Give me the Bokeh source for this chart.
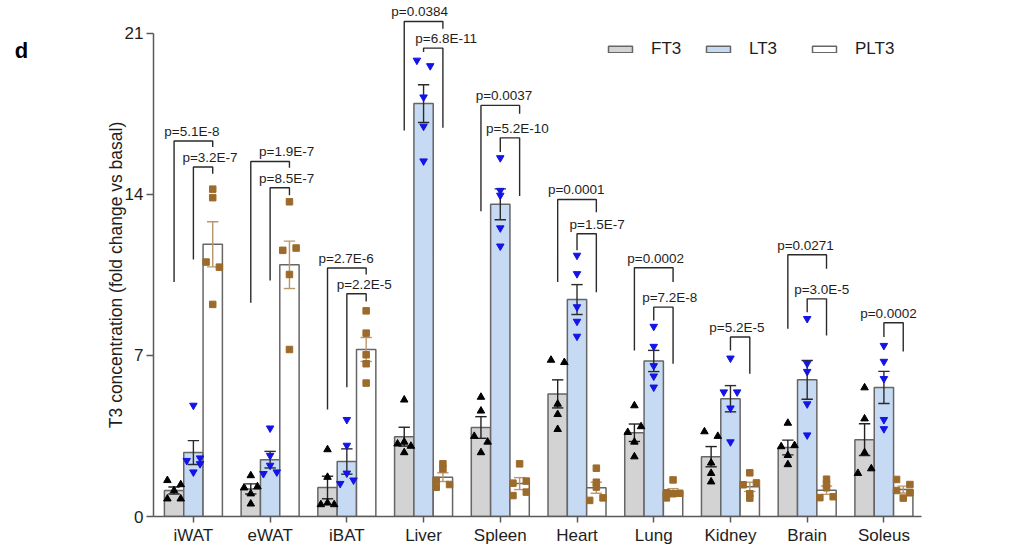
import numpy as np
from bokeh.plotting import figure
from bokeh.models import (ColumnDataSource, Range1d, FixedTicker, Legend, LegendItem, Label)
from bokeh.embed import file_html
from bokeh.resources import INLINE
from bokeh.core.properties import value

# ---------------- data ----------------
categories = ["iWAT", "eWAT", "iBAT", "Liver", "Spleen", "Heart", "Lung", "Kidney", "Brain", "Soleus"]
series = ["FT3", "LT3", "PLT3"]
y_ticks = [0, 7, 14, 21]
y_label = "T3 concentration (fold change vs basal)"
panel_letter = "d"

ft3_mean = [1.13, 1.20, 1.26, 3.47, 3.87, 5.33, 3.64, 2.60, 3.00, 3.34]
ft3_sem = [0.15, 0.22, 0.49, 0.41, 0.47, 0.61, 0.38, 0.44, 0.32, 0.69]
lt3_mean = [2.78, 2.47, 2.39, 17.95, 13.57, 9.43, 6.76, 5.12, 5.94, 5.61]
lt3_sem = [0.52, 0.36, 0.55, 0.82, 0.67, 0.65, 0.46, 0.57, 0.84, 0.70]
plt3_mean = [11.83, 10.94, 7.26, 1.71, 1.43, 1.25, 1.10, 1.29, 1.14, 1.17]
plt3_sem = [0.98, 1.03, 0.52, 0.19, 0.26, 0.24, 0.11, 0.20, 0.18, 0.15]

ft3_points = [
    [1.57, 1.39, 1.13, 0.77, 0.77],
    [1.78, 1.25, 1.30, 0.99, 0.55],
    [2.91, 1.71, 0.52, 0.59, 0.52],
    [5.07, 3.24, 3.16, 3.06, 2.78],
    [5.19, 4.59, 3.49, 3.24, 2.78],
    [6.80, 6.70, 4.89, 4.44, 3.79],
    [4.82, 3.91, 3.66, 3.24, 2.60],
    [3.69, 3.49, 2.33, 1.88, 1.51],
    [4.06, 3.09, 3.04, 2.66, 2.26],
    [5.60, 4.25, 2.78, 1.88, 2.08],
]
lt3_points = [
    [4.83, 2.43, 2.54, 2.29, 1.93],
    [3.84, 2.65, 2.22, 1.86, 1.93],
    [4.21, 3.09, 1.88, 1.43, 1.58],
    [19.83, 19.59, 18.23, 16.96, 15.45],
    [15.59, 14.17, 13.96, 12.54, 11.75],
    [11.35, 10.55, 9.11, 8.48, 7.83],
    [8.26, 7.39, 6.55, 6.10, 5.62],
    [6.88, 5.41, 5.41, 4.71, 3.24],
    [8.60, 6.65, 6.30, 4.89, 3.54],
    [7.43, 6.74, 5.99, 4.21, 3.81],
]
plt3_points = [
    [14.23, 13.86, 11.06, 10.84, 9.22],
    [13.68, 11.57, 11.67, 10.52, 7.26],
    [8.94, 7.97, 7.03, 6.64, 5.80],
    [2.29, 2.07, 1.57, 1.39, 1.27],
    [2.29, 1.45, 1.54, 0.91, 1.06],
    [2.10, 1.49, 1.28, 0.70, 0.81],
    [1.59, 1.03, 0.99, 1.01, 0.81],
    [1.90, 1.38, 1.46, 0.99, 0.80],
    [1.62, 1.40, 1.25, 0.82, 0.86],
    [1.61, 1.39, 1.13, 1.03, 0.80],
]

# significance brackets (group index, compared series vs PLT3)
bracket_group = [0, 0, 1, 1, 2, 2, 3, 3, 4, 4, 5, 5, 6, 6, 7, 8, 8, 9]
bracket_from = ["FT3", "LT3", "FT3", "LT3", "FT3", "LT3", "FT3", "LT3", "FT3", "LT3",
                "FT3", "LT3", "FT3", "LT3", "LT3", "FT3", "LT3", "LT3"]
bracket_top = [16.32, 15.19, 15.43, 14.29, 10.80, 9.68, 21.52, 20.36, 17.87, 16.46,
               13.78, 12.29, 10.81, 9.10, 7.80, 11.38, 9.46, 8.42]
bracket_left_end = [10.19, 11.17, 9.29, 10.26, 4.65, 5.62, 16.78, 20.19, 13.27, 15.84,
                    10.19, 11.57, 7.22, 8.52, 7.22, 8.16, 8.88, 7.80]
bracket_right_end = [16.06, 14.90, 15.16, 13.96, 10.52, 9.35, 21.20, 16.90, 17.51, 13.93,
                     13.23, 9.75, 10.19, 6.64, 6.20, 10.77, 7.87, 7.17]
bracket_text = ["p=5.1E-8", "p=3.2E-7", "p=1.9E-7", "p=8.5E-7", "p=2.7E-6", "p=2.2E-5",
                "p=0.0384", "p=6.8E-11", "p=0.0037", "p=5.2E-10", "p=0.0001", "p=1.5E-7",
                "p=0.0002", "p=7.2E-8", "p=5.2E-5", "p=0.0271", "p=3.0E-5", "p=0.0002"]

# ---------------- layout / style ----------------
label_dx = [-0.02, 0.217, 0.215, 0.215, -0.01, 0.227, -0.052, 0.294, 0.048, 0.223,
            -0.01, 0.262, 0.025, 0.209, 0.084, -0.022, 0.19, 0.06]
label_dy = 0.42
jitter = {
    "FT3": [[-1, 1, 0, -1, 1], [0, -1, 1, 0, 0], [0, 0, -1, 0, 1], [0, 0, -1, 1, 0], [0, 0, -1, 1, 0],
            [-1, 1, 0, 0, 0], [0, 1, -1, 0, 0], [-1, 1, 0, 0, 0], [0, 1, -1, 0, 0], [0, 0, 0, -1, 1]],
    "LT3": [[0, -1, 1, 1, 0], [0, 0, 0, -1, 1], [0, 0, 0, -1, 1], [-1, 1, 0, 0, 0], [0, 0, 0, 0, 0],
            [0, 0, 0, 0, 0], [0, 0, 0, 0, 0], [0, -1, 1, 0, 0], [0, 0, 0, 0, 0], [0, 0, 0, 0, 0]],
    "PLT3": [[0, 0, -1, 1, 0], [0, -1, 1, 0, 0], [0, 0, 0, 0, 0], [0, 0, -1, 1, -1], [0, -1, 1, -1, 1],
             [0, 0, 0, -1, 1], [0, -1, 0, 1, -1], [0, -1, 1, 0, 0], [0, 0, 0, -1, 1], [-1, 1, -1, 1, 0]],
}
offset = {"FT3": -0.252, "LT3": 0.0, "PLT3": 0.252}
bar_width = 0.252
jit_step = 0.087
cap_half = 0.074
fill = {"FT3": "#d3d3d3", "LT3": "#c6daf3", "PLT3": "#ffffff"}
err_color = {"FT3": "#222222", "LT3": "#2b2b2b", "PLT3": "#b8976c"}
marker = {"FT3": "triangle", "LT3": "inverted_triangle", "PLT3": "square"}
marker_color = {"FT3": "#000000", "LT3": "#1414e6", "PLT3": "#9c6b2c"}
marker_size = {"FT3": 7.5, "LT3": 7.5, "PLT3": 6.5}
FONT = "Liberation Sans"
axis_color = "#5a5a5a"
bar_line = "#666666"

means = {"FT3": ft3_mean, "LT3": lt3_mean, "PLT3": plt3_mean}
sems = {"FT3": ft3_sem, "LT3": lt3_sem, "PLT3": plt3_sem}
points = {"FT3": ft3_points, "LT3": lt3_points, "PLT3": plt3_points}

p = figure(frame_width=768, frame_height=516,
           x_range=Range1d(-0.52, 9.49), y_range=Range1d(0, 22.43),
           output_backend="svg", toolbar_location=None,
           min_border_left=153, min_border_right=103, min_border_top=0, min_border_bottom=29)
p.outline_line_color = None
p.xgrid.visible = False
p.ygrid.visible = False
p.background_fill_color = "white"

idx = np.arange(len(categories))
bar_renderers = {}
for s in series:
    xs = idx + offset[s]
    src = ColumnDataSource(dict(x=xs, top=means[s]))
    bar_renderers[s] = p.vbar(x="x", top="top", bottom=0, width=bar_width, source=src,
                              fill_color=fill[s], line_color=bar_line, line_width=1.5)

for s in series:
    xs = idx + offset[s]
    m = np.array(means[s]); e = np.array(sems[s])
    seg = ColumnDataSource(dict(
        x0=np.concatenate([xs, xs - cap_half, xs - cap_half]),
        x1=np.concatenate([xs, xs + cap_half, xs + cap_half]),
        y0=np.concatenate([m - e, m + e, m - e]),
        y1=np.concatenate([m + e, m + e, m - e])))
    p.segment(x0="x0", y0="y0", x1="x1", y1="y1", source=seg,
              line_color=err_color[s], line_width=1.4)

for s in series:
    px, py = [], []
    for i in range(len(categories)):
        for v, j in zip(points[s][i], jitter[s][i]):
            px.append(i + offset[s] + j * jit_step)
            py.append(v)
    p.scatter(x=px, y=py, marker=marker[s], size=marker_size[s],
              fill_color=marker_color[s], line_color=marker_color[s])

# brackets
bx, by, tx, ty = [], [], [], []
for k in range(len(bracket_group)):
    g = bracket_group[k]
    xl = g + offset[bracket_from[k]]
    xr = g + offset["PLT3"]
    bx.append([xl, xl, xr, xr])
    by.append([bracket_left_end[k], bracket_top[k], bracket_top[k], bracket_right_end[k]])
    tx.append(g + label_dx[k])
    ty.append(bracket_top[k] + label_dy)
p.multi_line(xs=bx, ys=by, line_color="#2a2a2a", line_width=1.4)
p.text(x=tx, y=ty, text=bracket_text, text_font=value(FONT), text_font_size="13.5px",
       text_align="center", text_baseline="middle", text_color="#1e1e1e")

# axes
p.xaxis.ticker = FixedTicker(ticks=list(idx))
p.xaxis.major_label_overrides = {int(i): c for i, c in zip(idx, categories)}
p.yaxis.ticker = FixedTicker(ticks=y_ticks)
p.yaxis.bounds = (0, 21)
for ax in (p.xaxis[0], p.yaxis[0]):
    ax.axis_line_color = axis_color
    ax.axis_line_width = 1.5
    ax.major_tick_line_color = axis_color
    ax.major_tick_line_width = 1.5
    ax.major_tick_in = 0
    ax.minor_tick_line_color = None
    ax.major_label_text_font = FONT
    ax.major_label_text_font_size = "17px"
    ax.major_label_text_color = "#1e1e1e"
p.xaxis.major_tick_out = 6
p.xaxis.major_label_standoff = 3
p.yaxis.major_tick_out = 7
p.yaxis.major_label_standoff = 3

# texts outside the frame go to the left side panel (not clipped there)
p.add_layout(Label(x=-1.015, y=10.5, text=y_label, angle=np.pi / 2, text_font=FONT,
                   text_font_size="17.5px", text_align="center", text_baseline="alphabetic",
                   text_color="#1e1e1e"), "left")
p.add_layout(Label(x=-2.33, y=20.25, text=panel_letter, text_font=FONT, text_font_size="22px",
                   text_font_style="bold", text_align="left", text_baseline="alphabetic",
                   text_color="#000000"), "left")

# legend: one box per entry
legend_pos = {"FT3": (452, 457), "LT3": (550, 457), "PLT3": (656, 457)}
for s in series:
    lg = Legend(items=[LegendItem(label=s, renderers=[bar_renderers[s]])],
                location=legend_pos[s], orientation="horizontal",
                glyph_width=30, glyph_height=8, label_standoff=16,
                label_text_font=FONT, label_text_font_size="17px", label_text_color="#1e1e1e",
                padding=0, margin=0, border_line_alpha=0, background_fill_alpha=0)
    p.add_layout(lg)

open("out.html", "w").write(file_html(p, INLINE))
